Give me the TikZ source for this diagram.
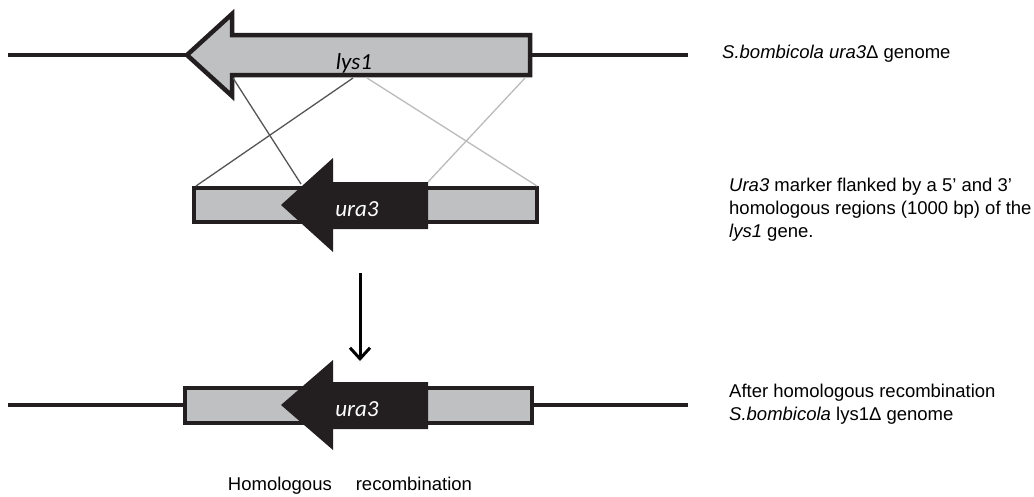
\documentclass[tikz,border=0pt]{standalone}
\usepackage{fontspec}
\setmainfont{Liberation Sans}
\newfontfamily\genefont{Carlito}
\usetikzlibrary{arrows.meta}
\definecolor{genefill}{RGB}{191,192,194}
\definecolor{inkdark}{RGB}{35,31,32}
\definecolor{crossdark}{RGB}{85,85,85}
\definecolor{crosslight}{RGB}{187,187,187}
\tikzset{
  genome/.style={draw=inkdark,line width=4pt},
  genebox/.style={draw=inkdark,fill=genefill,line width=4.5pt,line join=miter},
  markerarrow/.style={fill=inkdark,draw=none},
  crossA/.style={draw=crossdark,line width=1.3pt},
  crossB/.style={draw=crosslight,line width=1.3pt},
  genelabel/.style={font=\genefont\itshape\fontsize{23}{25}\selectfont,inner sep=0pt},
  sidelabel/.style={font=\fontsize{18.5}{23}\selectfont,anchor=west,align=left,inner sep=0pt},
  steparrow/.style={draw=black,line width=3pt,-{Straight Barb[length=11pt,width=20pt,line width=3pt]}}
}
\begin{document}
\begin{tikzpicture}[x=1pt,y=-1pt]
\useasboundingbox (0,0) rectangle (1034,496);
% ---- top genome ----
\coordinate (g1l) at (8,55);
\coordinate (g1r) at (688,55);
\draw[genome] (g1l) -- (g1r);
\draw[genebox] (187,55) -- (232,14) -- (232,35) -- (530,35) -- (530,75) -- (232,75) -- (232,96) -- cycle;
\node[genelabel] (lys) at (354,63) {lys1};
% ---- cassette ----
\draw[genebox] (194,188) rectangle (537,222);
\fill[markerarrow] (281,205) -- (333,158) -- (333,182) -- (428,182) -- (428,229) -- (333,229) -- (333,252) -- cycle;
\node[genelabel,text=white] (ura) at (357,209) {ura3};
% ---- crossing lines ----
\coordinate (a1) at (233,78);
\coordinate (a2) at (353,78);
\coordinate (b1) at (367,78);
\coordinate (b2) at (525,78);
\coordinate (c1) at (301,184);
\coordinate (c2) at (196,186);
\coordinate (d1) at (537,186);
\coordinate (d2) at (428,182);
\draw[crossA] (a1) -- (c1);
\draw[crossA] (a2) -- (c2);
\draw[crossB] (b1) -- (d1);
\draw[crossB] (b2) -- (d2);
% ---- step arrow ----
\coordinate (s1) at (360,273);
\coordinate (s2) at (360,361);
\draw[steparrow] (s1) -- (s2);
% ---- bottom genome ----
\coordinate (g2l) at (8,405);
\coordinate (g2r) at (688,405);
\draw[genome] (g2l) -- (g2r);
\draw[genebox] (185,388) rectangle (532,423);
\fill[markerarrow] (281,405) -- (333,360) -- (333,382) -- (428,382) -- (428,429) -- (333,429) -- (333,450) -- cycle;
\node[genelabel,text=white] (ura2) at (357,409) {ura3};
% ---- labels ----
\node[font=\fontsize{18.5}{23}\selectfont,inner sep=0pt] (hr) at (350,486) {Homologous\hspace*{24pt}recombination};
\node[sidelabel] (t1) at (722,54) {\textit{S.bombicola ura3}Δ genome};
\node[sidelabel] (t2) at (729,210) {\textit{Ura3} marker flanked by a 5’ and 3’\\homologous regions (1000 bp) of the\\\textit{lys1} gene.};
\node[sidelabel] (t3) at (729,404) {After homologous recombination\\\textit{S.bombicola} lys1Δ genome};
\end{tikzpicture}
\end{document}
